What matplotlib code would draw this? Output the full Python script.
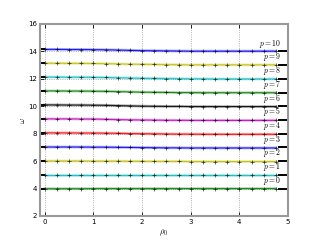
import numpy as np
import matplotlib
matplotlib.use('Agg')
import matplotlib.pyplot as plt

plt.rcParams['mathtext.fontset'] = 'cm'

# rho_0 sample points (markers every 0.25)
rho0 = np.arange(0, 5, 0.25)

# omega(rho_0) for each p
p_values = [0, 1, 2, 3, 4, 5, 6, 7, 8, 9, 10]
omega = {
    0: [3.99, 3.99, 3.99, 3.99, 4.00, 4.00, 4.00, 4.00, 4.00, 4.00, 4.00, 4.00, 4.00, 4.00, 4.00, 4.00, 4.00, 4.00, 4.00, 4.00],
    1: [4.98, 4.98, 4.98, 4.98, 4.98, 4.98, 4.98, 4.98, 4.98, 4.98, 4.98, 4.98, 4.98, 4.98, 4.98, 4.98, 4.98, 4.98, 4.98, 4.98],
    2: [6.01, 6.01, 6.01, 6.01, 6.00, 6.00, 6.00, 5.99, 5.99, 5.98, 5.98, 5.98, 5.97, 5.97, 5.97, 5.97, 5.97, 5.97, 5.97, 5.97],
    3: [7.03, 7.03, 7.03, 7.03, 7.02, 7.02, 7.01, 7.00, 6.99, 6.98, 6.97, 6.97, 6.96, 6.96, 6.96, 6.96, 6.96, 6.96, 6.96, 6.96],
    4: [8.06, 8.06, 8.06, 8.05, 8.05, 8.04, 8.03, 8.01, 8.00, 7.99, 7.98, 7.97, 7.97, 7.96, 7.96, 7.96, 7.96, 7.96, 7.96, 7.96],
    5: [9.08, 9.08, 9.08, 9.07, 9.07, 9.05, 9.03, 9.01, 9.00, 8.99, 8.98, 8.98, 8.97, 8.97, 8.97, 8.97, 8.97, 8.97, 8.97, 8.97],
    6: [10.10, 10.10, 10.09, 10.09, 10.08, 10.07, 10.05, 10.03, 10.01, 10.00, 9.99, 9.99, 9.98, 9.98, 9.98, 9.98, 9.98, 9.98, 9.98, 9.98],
    7: [11.12, 11.12, 11.11, 11.11, 11.10, 11.09, 11.07, 11.05, 11.03, 11.02, 11.01, 11.00, 11.00, 10.99, 10.99, 10.99, 10.99, 10.99, 10.99, 10.99],
    8: [12.13, 12.13, 12.12, 12.12, 12.11, 12.10, 12.08, 12.06, 12.04, 12.03, 12.02, 12.01, 12.00, 12.00, 11.99, 11.99, 11.99, 11.99, 11.99, 11.99],
    9: [13.14, 13.14, 13.13, 13.13, 13.12, 13.11, 13.09, 13.07, 13.06, 13.05, 13.04, 13.03, 13.02, 13.02, 13.02, 13.02, 13.02, 13.02, 13.02, 13.02],
    10: [14.15, 14.15, 14.14, 14.14, 14.13, 14.12, 14.10, 14.08, 14.06, 14.05, 14.04, 14.03, 14.02, 14.02, 14.02, 14.02, 14.02, 14.02, 14.02, 14.02],
}
# limit value omega = p + 4 (short black bar at right)
omega_limit = [4, 5, 6, 7, 8, 9, 10, 11, 12, 13, 14]
colors = ['g', 'c', 'y', 'b', 'r', 'm', 'k', 'g', 'c', 'y', 'b']

fig = plt.figure(figsize=(3.2, 2.4), dpi=100)
ax = fig.add_axes([0.125, 0.1, 0.775, 0.8])

for i, p in enumerate(p_values):
    w = omega[p]
    ax.plot(rho0, w, '-', color=colors[i], lw=2.0, alpha=0.3)
    ax.plot(rho0, w, '-', color=colors[i], lw=0.8, alpha=0.85)
    ax.plot(rho0, w, '+', color='k', ms=2.5, mew=0.5, alpha=0.8)
    # short black pieces at both ends
    ax.plot([-0.1, -0.01], [w[0], w[0]], color='k', lw=1.4)
    ax.plot([4.82, 5.0], [omega_limit[i], omega_limit[i]], color='k', lw=1.4)
    ax.text(4.86, omega_limit[i] + 0.12, '$p=%d$' % p, ha='right', va='bottom', fontsize=5.5)

ax.set_xlim(-0.1, 5)
ax.set_ylim(2, 16)
ax.set_xticks([0, 1, 2, 3, 4, 5])
ax.set_yticks([2, 4, 6, 8, 10, 12, 14, 16])
ax.tick_params(direction='in', length=3, width=0.6, labelsize=5, pad=2, top=True, right=True)
ax.grid(True, linestyle=':', color='0.6', lw=0.6)
for s in ax.spines.values():
    s.set_color('0.6')
    s.set_linewidth(1.5)

ax.set_xlabel(r'$\rho_0$', fontsize=6, labelpad=2)
ax.set_ylabel(r'$\omega$', fontsize=6, labelpad=1)

fig.savefig('out.png', dpi=100)
